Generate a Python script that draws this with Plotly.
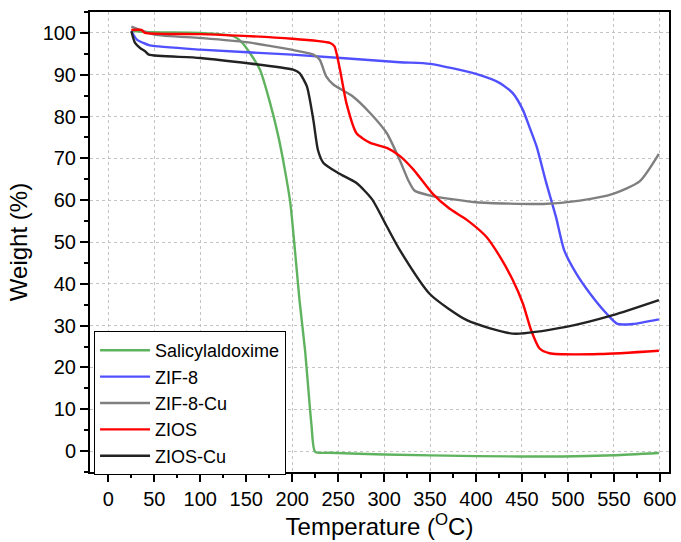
import plotly.graph_objects as go

# Salicylaldoxime
sal_x = [25, 40, 60, 100, 136, 145, 154, 165, 176, 185, 192, 198, 203, 208, 214, 221, 225, 241, 300, 400, 494, 550, 599]
sal_y = [100.5, 100.2, 100.1, 100.0, 99.2, 97.8, 95.2, 91.2, 83.2, 75.2, 67.3, 59.3, 48.0, 36.0, 24.1, 6.2, -0.2, -0.4, -0.8, -1.2, -1.3, -1.0, -0.45]

# ZIF-8
zif_x = [25, 31, 38, 45, 100, 200, 317, 350, 400, 426, 440, 451, 458, 466, 476, 487, 496, 509, 524, 542, 554, 571, 599]
zif_y = [100.4, 98.4, 97.6, 97.0, 96.0, 94.8, 93.0, 92.6, 90.2, 88.0, 85.6, 81.6, 77.6, 72.8, 64.5, 56.0, 48.0, 42.5, 37.7, 32.9, 30.4, 30.4, 31.5]

# ZIF-8-Cu
zcu_x = [25, 50, 100, 150, 208, 223, 230, 237, 245, 266, 285, 303, 317, 326, 333, 350, 400, 473, 513, 549, 578, 599]
zcu_y = [101.5, 99.6, 98.8, 97.8, 95.6, 94.8, 93.6, 89.6, 87.6, 84.8, 80.8, 76.0, 69.6, 64.9, 62.3, 61.1, 59.5, 59.1, 59.9, 61.5, 64.5, 71.1]

# ZIOS
zios_x = [25, 36, 40, 100, 200, 241, 246, 252, 259, 270, 285, 303, 317, 332, 353, 371, 390, 411, 426, 440, 451, 460, 469, 480, 535, 599]
zios_y = [100.7, 100.7, 100.0, 99.7, 98.6, 97.6, 96.8, 91.2, 83.2, 76.0, 73.7, 72.5, 70.6, 67.3, 61.5, 58.0, 55.3, 51.3, 46.5, 40.9, 35.3, 28.9, 24.6, 23.4, 23.2, 24.0]

# ZIOS-Cu
zioscu_x = [25, 29, 34.5, 40, 44, 100, 201, 208, 216, 223, 228, 234, 250, 270, 287, 303, 317, 350, 390, 440, 498, 549, 599]
zioscu_y = [100.4, 97.6, 96.4, 95.6, 94.8, 94.0, 91.2, 90.4, 87.2, 79.2, 72.0, 68.9, 66.5, 64.1, 60.2, 53.7, 48.1, 37.5, 31.3, 28.1, 29.7, 32.5, 36.1]

names = ["Salicylaldoxime", "ZIF-8", "ZIF-8-Cu", "ZIOS", "ZIOS-Cu"]
colors = ["#5fb35f", "#5050ff", "#7f7f7f", "#ff0000", "#222222"]
series = [(sal_x, sal_y), (zif_x, zif_y), (zcu_x, zcu_y), (zios_x, zios_y), (zioscu_x, zioscu_y)]

x_ticks = list(range(0, 601, 50))
y_ticks = list(range(0, 101, 10))

font_family = "Arial, Liberation Sans, sans-serif"

fig = go.Figure()
for (xs, ys), name, col in zip(series, names, colors):
    fig.add_trace(go.Scatter(x=xs, y=ys, mode="lines", name=name,
                             line=dict(color=col, width=2.4, shape="spline", smoothing=0.6)))

axis_common = dict(
    showline=True, linecolor="black", linewidth=2, mirror=True,
    ticks="outside", ticklen=8, tickwidth=1.5, tickcolor="black",
    showgrid=True, gridcolor="#c4c4c4", griddash="dot", gridwidth=1,
    zeroline=False, automargin=False,
    tickfont=dict(family=font_family, size=20, color="black"),
)

fig.update_xaxes(range=[-20, 610], tickvals=x_ticks, ticktext=[str(v) for v in x_ticks],
                 minor=dict(ticks="outside", ticklen=4, tickwidth=1.5, tickcolor="black", dtick=25, showgrid=False),
                 title=dict(text="Temperature (<sup>O</sup>C)", font=dict(family=font_family, size=24, color="black"), standoff=4),
                 **axis_common)
fig.update_yaxes(range=[-5, 105], tickvals=y_ticks, ticktext=[str(v) for v in y_ticks],
                 minor=dict(ticks="outside", ticklen=4, tickwidth=1.5, tickcolor="black", dtick=5, showgrid=False),
                 title=dict(text="Weight (%)", font=dict(family=font_family, size=24, color="black"), standoff=8),
                 **axis_common)

fig.update_layout(
    width=681, height=542,
    margin=dict(l=90, r=12, t=12, b=70),
    paper_bgcolor="white", plot_bgcolor="white",
    font=dict(family=font_family, color="black"),
    legend=dict(x=0.007, y=0.15, xanchor="left", yanchor="middle",
                bgcolor="white", bordercolor="black", borderwidth=1,
                font=dict(family=font_family, size=18, color="black"),
                tracegroupgap=0, itemwidth=50),
    showlegend=True,
)

fig.write_html("out.html", config={"displayModeBar": False},
               post_script="document.body.style.margin='0';document.body.style.overflow='hidden';")
